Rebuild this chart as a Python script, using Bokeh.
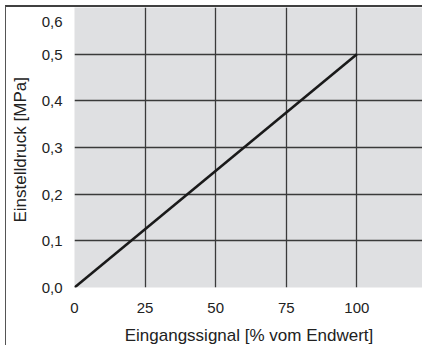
from bokeh.plotting import figure
from bokeh.embed import file_html
from bokeh.resources import INLINE
from bokeh.models import Range1d, FixedTicker

# data
signal_pct = [0, 100]
pressure_mpa = [0.0, 0.5]
x_ticks = [0, 25, 50, 75, 100]
x_tick_labels = ["0", "25", "50", "75", "100"]
y_ticks = [0.0, 0.1, 0.2, 0.3, 0.4, 0.5, 0.6]
y_tick_labels = ["0,0", "0,1", "0,2", "0,3", "0,4", "0,5", "\n0,6"]

FONT = "Liberation Sans"
GRID = "#3a3a3a"

p = figure(width=417, height=340, output_backend="svg", toolbar_location=None,
           x_range=Range1d(0, 123.6), y_range=Range1d(0, 0.6),
           min_border_left=68, min_border_right=0, min_border_top=0,
           min_border_bottom=59)
p.styles = {"margin-left": "5px", "margin-top": "5px",
            "border-left": "1.5px solid #555555", "border-top": "2px solid #404040"}

p.background_fill_color = "#dfe0e2"
p.border_fill_color = "white"
p.outline_line_color = None

p.line(signal_pct, pressure_mpa, line_color="#1a1a1a", line_width=2.6)

p.xaxis.ticker = FixedTicker(ticks=x_ticks)
p.yaxis.ticker = FixedTicker(ticks=y_ticks)
p.xaxis.major_label_overrides = {t: l for t, l in zip(x_ticks, x_tick_labels)}
p.yaxis.major_label_overrides = {t: l for t, l in zip(y_ticks, y_tick_labels)}

for ax in (p.xaxis, p.yaxis):
    ax.axis_line_color = None
    ax.major_tick_line_color = None
    ax.minor_tick_line_color = None
    ax.major_label_text_font = FONT
    ax.major_label_text_font_size = "15px"
    ax.major_label_text_color = "#222222"
    ax.axis_label_text_font = FONT
    ax.axis_label_text_font_size = "17px"
    ax.axis_label_text_font_style = "normal"
    ax.axis_label_text_color = "#222222"
p.yaxis.major_label_text_line_height = 0.3

p.xaxis.axis_label = "Eingangssignal [% vom Endwert]"
p.yaxis.axis_label = "Einstelldruck  [MPa]"
p.xaxis.major_label_standoff = 9
p.yaxis.major_label_standoff = 6
p.xaxis.axis_label_standoff = 10
p.yaxis.axis_label_standoff = 9

p.xgrid.ticker = FixedTicker(ticks=x_ticks)
p.ygrid.ticker = FixedTicker(ticks=y_ticks)
for g in (p.xgrid, p.ygrid):
    g.grid_line_color = GRID
    g.grid_line_width = 1.3

open("out.html", "w").write(file_html(p, INLINE))
